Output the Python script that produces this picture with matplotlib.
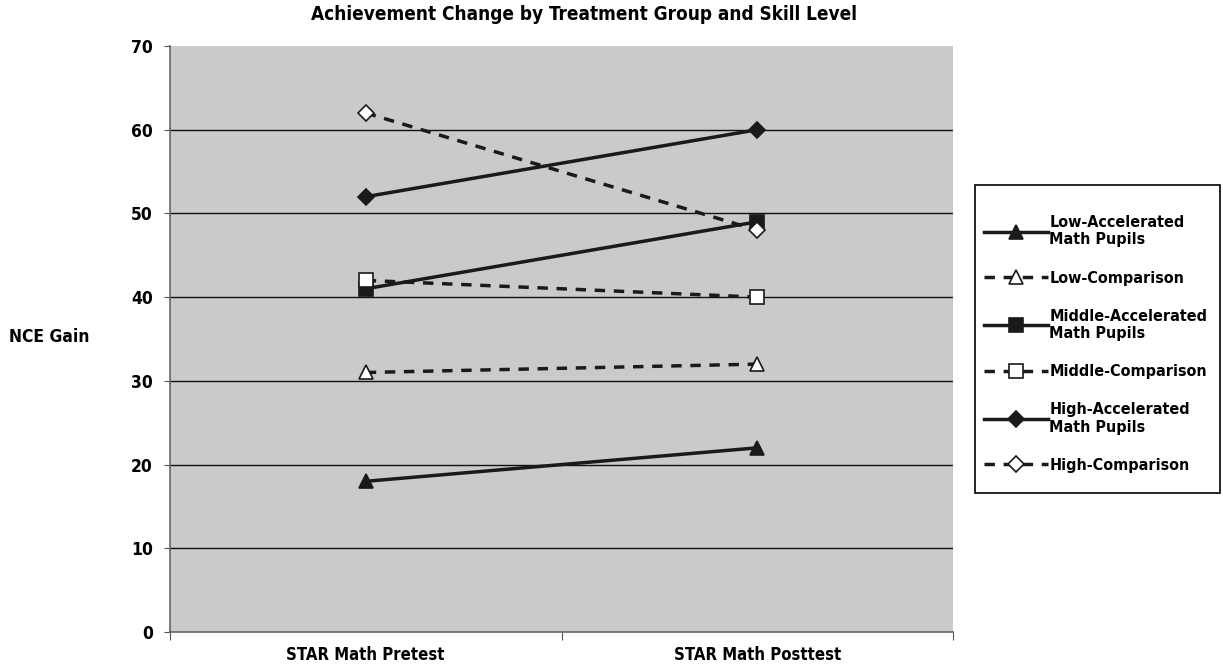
import matplotlib.pyplot as plt
from matplotlib.patches import Rectangle

categories = ["STAR Math Pretest", "STAR Math Posttest"]
series_names = ["Low-Accelerated\nMath Pupils", "Low-Comparison",
                "Middle-Accelerated\nMath Pupils", "Middle-Comparison",
                "High-Accelerated\nMath Pupils", "High-Comparison"]
low_acc = [18, 22]
low_comp = [31, 32]
mid_acc = [41, 49]
mid_comp = [42, 40]
high_acc = [52, 60]
high_comp = [62, 48]

plt.rcParams['font.family'] = ['DejaVu Sans']
plt.rcParams['font.stretch'] = 'condensed'
plt.rcParams['font.weight'] = 'bold'

W, H = 1223, 669
fig = plt.figure(figsize=(W / 100, H / 100), dpi=100)
ax = fig.add_axes([170 / W, 1 - 632 / H, 783 / W, 586 / H])
ax.set_facecolor('#c9cacc')

x = [0.5, 1.5]
series = [low_acc, low_comp, mid_acc, mid_comp, high_acc, high_comp]
markers = ['^', '^', 's', 's', 'D', 'D']
sizes = [10, 10, 9.5, 9.5, 8, 8]
for i, (vals, name) in enumerate(zip(series, series_names)):
    comp = i % 2 == 1
    line, = ax.plot(x, vals, linestyle='--' if comp else '-', marker=markers[i],
                    color='#1a1a1a', markerfacecolor='white' if comp else '#1a1a1a',
                    markeredgecolor='#1a1a1a', markeredgewidth=1.2,
                    markersize=sizes[i], linewidth=2.5, label=name)
    if comp:
        line.set_dashes((3, 2.5))

ax.set_xlim(0, 2)
ax.set_ylim(0, 70)
ax.set_yticks(range(0, 71, 10))
ax.set_xticks([0, 1, 2])
ax.set_xticklabels([])
ax.set_xticks(x, minor=True)
ax.set_xticklabels(categories, minor=True, fontsize=12, fontweight='bold')
ax.tick_params(axis='x', which='minor', length=0, pad=10)
ax.tick_params(axis='x', which='major', length=6, color='#555555')
ax.tick_params(axis='y', length=4, color='#555555', labelsize=12.5, pad=8.5)
for v in range(10, 70, 10):
    ax.axhline(v, color='#111111', linewidth=1.0, zorder=0.5)
for s in ['top', 'right']:
    ax.spines[s].set_visible(False)
for s in ['left', 'bottom']:
    ax.spines[s].set_color('#666666')
    ax.spines[s].set_linewidth(1.2)

fig.text(49 / W, 1 - 337 / H, "NCE Gain", fontsize=12.5, fontweight='bold', ha='center', va='center')
fig.text(584 / W, 1 - 15 / H, "Achievement Change by Treatment Group and Skill Level",
         fontsize=13.6, fontweight='bold', ha='center', va='center')

# legend frame
fig.patches.append(Rectangle((975 / W, 1 - 493 / H), 245 / W, 308 / H, transform=fig.transFigure,
                             facecolor='white', edgecolor='black', linewidth=1.2, zorder=0.5))
handles, labels = ax.get_legend_handles_labels()
leg = fig.legend(handles, labels, loc='center left', bbox_to_anchor=(984 / W, 1 - 344 / H),
                 frameon=False, fontsize=11.5, handlelength=4.0, labelspacing=1.45,
                 borderpad=0, handletextpad=0.1, borderaxespad=0)

fig.savefig('out.png', dpi=100)
